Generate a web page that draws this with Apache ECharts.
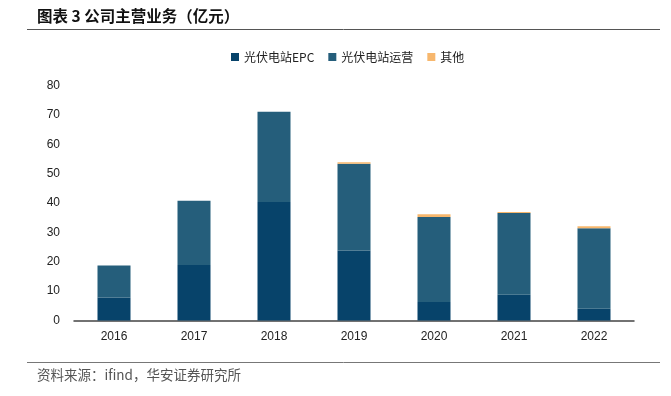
<!DOCTYPE html>
<html><head><meta charset="utf-8">
<script src="https://cdn.jsdelivr.net/npm/echarts@6/dist/echarts.min.js"></script>
<style>html,body{margin:0;padding:0;background:#fff}#c{width:671px;height:396px}</style>
</head><body><div id="c"></div>
<script>
const categories = ['2016','2017','2018','2019','2020','2021','2022'];
const epc = [7.8, 18.9, 40.3, 23.8, 6.3, 8.8, 4.0];
const ops = [10.9, 21.9, 30.8, 29.6, 28.9, 27.8, 27.4];
const other = [null, null, null, 0.5, 1.0, 0.3, 0.7];
const seriesNames = ['光伏电站EPC', '光伏电站运营', '其他'];
const yTicks = {min: 0, max: 80, interval: 10};

const chart = echarts.init(document.getElementById('c'));
const font = '"Noto Sans CJK SC", "Liberation Sans", sans-serif';
const colors = ['#07436a', '#255e7b', '#f7b76d'];
const mk = (name, data, i) => ({
  name, type: 'bar', stack: 'a', data, barWidth: 33,
  itemStyle: {color: colors[i]},
  emphasis: {disabled: true}
});
chart.setOption({
  animation: false,
  textStyle: {fontFamily: font},
  graphic: [
    {type: 'text', left: 37, top: 8, style: {text: '图表 3 公司主营业务（亿元）', font: 'bold 15.5px ' + font, fill: '#111'}},
    {type: 'line', shape: {x1: 27, y1: 29.5, x2: 660, y2: 29.5}, style: {stroke: '#555', lineWidth: 1}},
    {type: 'line', shape: {x1: 27, y1: 362.5, x2: 660, y2: 362.5}, style: {stroke: '#777', lineWidth: 1}},
    {type: 'text', left: 37, top: 368, style: {text: '资料来源：ifind，华安证券研究所', font: '13.5px ' + font, fill: '#555'}}
  ],
  legend: {
    top: 46, left: 226,
    itemWidth: 8, itemHeight: 8, itemGap: 14,
    icon: 'rect',
    textStyle: {fontSize: 12, color: '#222', fontFamily: font},
    data: seriesNames
  },
  grid: {left: 74, right: 37, top: 85.5, bottom: 75.5, containLabel: false},
  xAxis: {
    type: 'category', data: categories,
    axisLine: {lineStyle: {color: '#444', width: 1.5}},
    axisTick: {inside: true, length: 4, lineStyle: {color: '#444'}},
    axisLabel: {color: '#222', fontSize: 12, margin: 10, fontFamily: '"Liberation Sans", sans-serif'}
  },
  yAxis: {
    type: 'value', min: yTicks.min, max: yTicks.max, interval: yTicks.interval,
    axisLine: {show: false}, axisTick: {show: false}, splitLine: {show: false},
    axisLabel: {color: '#222', fontSize: 12, margin: 14, fontFamily: '"Liberation Sans", sans-serif'}
  },
  series: [mk(seriesNames[0], epc, 0), mk(seriesNames[1], ops, 1), mk(seriesNames[2], other, 2)]
});
</script></body></html>
